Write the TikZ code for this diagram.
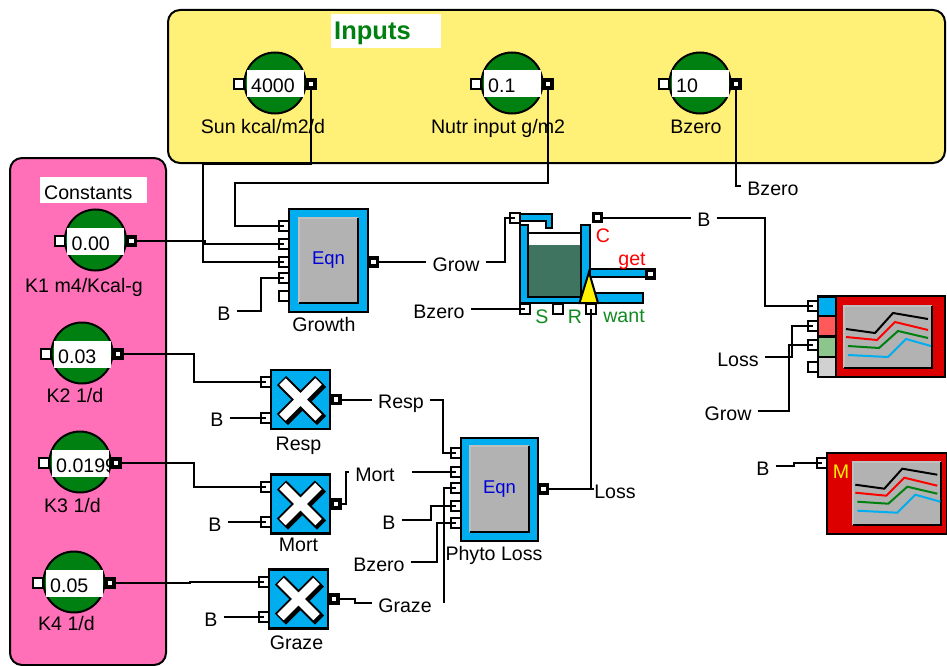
\documentclass[tikz,border=0pt]{standalone}
\usepackage{fontspec}
\setmainfont{Liberation Sans}
\definecolor{panelyellow}{HTML}{FFF078}
\definecolor{panelpink}{HTML}{FF70B8}
\definecolor{knobgreen}{HTML}{008010}
\definecolor{pipeblue}{HTML}{00AEEF}
\definecolor{bodyred}{HTML}{DD0000}
\definecolor{panelgray}{HTML}{B2B2B2}
\definecolor{stockgreen}{HTML}{3F7560}
\definecolor{labelgreen}{HTML}{108A20}
\tikzset{
  lab/.style={inner sep=0pt,text height=14pt,text depth=4pt,font=\fontsize{19.6}{21}\selectfont},
  wirelab/.style={lab,inner xsep=6pt,text height=22pt},
  wire/.style={draw,line width=2pt},
  portin/.style={rectangle,draw,line width=2pt,fill=white,inner sep=0pt,minimum size=10pt},
  portout/.style={rectangle,draw,line width=3.8pt,fill=white,inner sep=0pt,minimum size=8pt},
  knob/.style={circle,draw,line width=2pt,fill=knobgreen,inner sep=0pt,minimum size=61pt},
  block/.style={rectangle,draw,line width=2.2pt,fill=pipeblue,inner sep=0pt},
  bodyblock/.style={rectangle,draw,line width=2.2pt,fill=bodyred,inner sep=0pt},
  panel/.style={rectangle,fill=panelgray,inner sep=0pt},
  region/.style={draw,line width=2pt,rounded corners=12pt},
  pipe/.style={draw,line width=2pt,fill=pipeblue}
}
\begin{document}
\begin{tikzpicture}[x=1pt,y=-1pt]
\useasboundingbox (0,0) rectangle (947,666);
%% regions
\path[region,fill=panelyellow] (168,10) rectangle (945,163);
\path[region,fill=panelpink] (10,158) rectangle (166,665);
\fill[white] (331,14) rectangle (441,48);
\fill[white] (40,177) rectangle (147,203);
\node[lab,anchor=west,text=knobgreen,font=\bfseries\fontsize{25.5}{27}\selectfont] (inputs) at (334,35) {Inputs};
\node[lab,anchor=west] (constants) at (44,194) {Constants};
%% knobs
\foreach \name/\x/\y/\val/\labx/\laby/\lab in {
  sun/275/83/4000/263/129/{Sun kcal/m2/d},
  nutr/512/83/0.1/498/129/{Nutr input g/m2},
  bzero/700/83/10/696/129/{Bzero},
  kone/95.5/240/0.00/84/287/{K1 m4/Kcal-g},
  ktwo/82/353/0.03/75/397/{K2 1/d},
  kthree/80/462/0.0199/72.5/507/{K3 1/d},
  kfour/74/582/0.05/66.5/625/{K4 1/d}}
{
  \node[knob] (\name) at (\x,\y) {};
  \fill[white] (\x-28.5,\y-12.5) rectangle (\x+28.5,\y+14.5);
  \begin{scope}
    \clip (\x-28.5,\y-12.5) rectangle (\x+28.5,\y+14.5);
    \node[lab,anchor=west] (\name-val) at (\x-24,\y+5) {\val};
  \end{scope}
  \node[portin] (\name-in) at (\x-36,\y+1) {};
  \node[portout] (\name-out) at (\x+36,\y+1) {};
  \node[lab] (\name-lab) at (\labx,\laby) {\lab};
}
%% equation blocks
\node[block,minimum width=79pt,minimum height=103pt] (growth) at (328.5,260.5) {};
\node[panel,minimum width=59pt,minimum height=85pt,text=blue!85!black,font=\fontsize{18.5}{20}\selectfont] (growth-panel) at (328.5,260.5) {Eqn};
\node[lab] (growth-lab) at (324,326) {Growth};
\foreach \i/\y in {1/226,2/244,3/262,4/278,5/296}
  \node[portin] (growth-in\i) at (284,\y) {};
\node[portout] (growth-out) at (373.5,262) {};
%%
\node[block,minimum width=77pt,minimum height=103pt] (loss) at (499.5,489.5) {};
\node[panel,minimum width=59pt,minimum height=86pt,text=blue!85!black,font=\fontsize{18.5}{20}\selectfont] (loss-panel) at (499.5,489) {Eqn};
\node[lab] (loss-lab) at (494,555) {Phyto Loss};
\foreach \i/\y in {1/453,2/472,3/488,4/506,5/523}
  \node[portin] (loss-in\i) at (455.5,\y) {};
\node[portout] (loss-out) at (543.5,489) {};
%%
\foreach \name/\x/\y/\lab/\laby in {resp/300.5/399.5/Resp/445,mort/300.5/504/Mort/546,graze/298.5/599/Graze/644}
{
  \node[block,minimum size=59pt] (\name) at (\x,\y) {};
  \draw[line width=13pt] (\x-17,\y-17) -- (\x+21,\y+21) (\x-17,\y+21) -- (\x+21,\y-17);
  \draw[line width=13pt] (\x-19,\y-19) -- (\x+19,\y+19) (\x-19,\y+19) -- (\x+19,\y-19);
  \draw[white,line width=9pt] (\x-18,\y-18) -- (\x+18,\y+18) (\x-18,\y+18) -- (\x+18,\y-18);
  \node[lab] (\name-lab) at (\x-2,\laby) {\lab};
  \node[portin] (\name-in1) at (\x-35,\y-17.5) {};
  \node[portin] (\name-in2) at (\x-35,\y+18) {};
  \node[portout] (\name-out) at (\x+35.5,\y) {};
}
%% stock
\path[pipe] (515,214) -- (552,214) -- (552,228) -- (546,228) -- (546,221) -- (515,221) -- cycle;
\path[pipe] (590,269) rectangle (647,277);
\path[pipe] (520,225) -- (528,225) -- (528,297) -- (581,297) -- (581,225) -- (590,225)
  -- (590,293) -- (643,293) -- (643,303) -- (520,303) -- cycle;
\fill[stockgreen] (529,245) rectangle (580,296);
\fill[white] (529,234) rectangle (580,245);
\draw[line width=2pt] (528,233) -- (581,233);
\draw[line width=2pt,fill=yellow] (589,272) -- (598,303) -- (579.5,303) -- cycle;
\node[portin] (stock-in) at (514.5,217.5) {};
\node[portout] (stock-c) at (597.5,217.5) {};
\node[portout] (stock-get) at (650.5,274) {};
\node[portin] (stock-s) at (525,309) {};
\node[portin] (stock-r) at (558,309) {};
\node[portin] (stock-want) at (591,309) {};
\node[lab,text=red] (c-lab) at (603,237) {C};
\node[lab,text=red] (get-lab) at (632,260) {get};
\node[lab,text=labelgreen] (s-lab) at (542,318) {S};
\node[lab,text=labelgreen] (r-lab) at (575,318) {R};
\node[lab,text=labelgreen] (want-lab) at (624,317) {want};
%% graphs
\node[bodyblock,minimum width=127pt,minimum height=81pt] (graphone) at (881.5,336.5) {};
\foreach \y/\col in {307/pipeblue,326/red!65!white,347/green!50!black!45!white,367/black!18}
  \draw[line width=2pt,fill=\col] (818,\y-10) rectangle (836,\y+10);
\node[panel,minimum width=88pt,minimum height=62pt] (graphone-panel) at (888,337) {};
\foreach \i/\y in {1/306,2/326,3/345,4/367}
  \node[portin] (graphone-in\i) at (812.5,\y) {};
\node[bodyblock,minimum width=120pt,minimum height=81pt] (graphtwo) at (887,493.5) {};
\node[panel,minimum width=88pt,minimum height=63pt] (graphtwo-panel) at (897,493.5) {};
\node[portin] (graphtwo-in) at (821.5,463) {};
\node[lab,text=yellow] (m-lab) at (841,473) {M};
\foreach \name in {growth-panel,loss-panel,graphone-panel,graphtwo-panel}
{
  \draw[black!25,line width=1.6pt] (\name.south west) |- (\name.north east);
  \draw[line width=2pt] (\name.south west) -| (\name.north east);
}
\foreach \ox/\oy in {844/306,853.3/461.7}
{
  \begin{scope}[shift={(\ox,\oy)},line width=2pt]
    \draw (2,23) -- (31,27) -- (49,7) -- (84,13);
    \draw[red] (2,31) -- (33,34) -- (51,16) -- (84,24);
    \draw[knobgreen] (4,40) -- (35,42) -- (54,25) -- (84,32);
    \draw[pipeblue] (4,49) -- (44,51) -- (62,33) -- (87,40);
  \end{scope}
}
%% wire labels
\node[wirelab] (b-growth) at (224,311) {B};
\node[wirelab] (b-resp) at (217,417.5) {B};
\node[wirelab] (b-mort) at (215,522) {B};
\node[wirelab] (b-graze) at (211,617) {B};
\node[wirelab] (b-loss) at (389,520) {B};
\node[wirelab] (b-stock) at (704,217.5) {B};
\node[wirelab] (b-graph) at (763,466) {B};
\node[wirelab] (bzero-stock) at (439,309) {Bzero};
\node[wirelab] (bzero-loss) at (379,562) {Bzero};
\node[wirelab] (bzero-top) at (773,186) {Bzero};
\node[wirelab] (grow-one) at (456,262) {Grow};
\node[wirelab] (grow-two) at (728,411) {Grow};
\node[wirelab] (loss-one) at (615,489) {Loss};
\node[wirelab] (loss-two) at (738,357) {Loss};
\node[wirelab] (resp-wire) at (401,399.5) {Resp};
\node[wirelab] (mort-wire) at (375,472) {Mort};
\node[wirelab] (graze-wire) at (405,603) {Graze};
\coordinate (mort-free) at (412,472);
\coordinate (graze-free) at (444,603);
\coordinate (loss-free) at (594,489);
%% connectors
\path[wire]
\foreach \startNode/\endNode in {growth-out.east/grow-one.west, b-resp.east/resp-in2.center,
  b-mort.east/mort-in2.center, b-graze.east/graze-in2.center, resp-out.east/resp-wire.west,
  loss-out.east/loss-free, bzero-stock.east/stock-s.center,
  mort-free/loss-in2.center, stock-c.east/b-stock.west}
{
  (\startNode) edge (\endNode)
};
\draw[wire] (sun-out.south) |- (203,164) |- (growth-in3.center);
\draw[wire] (nutr-out.south) |- (235,183) |- (growth-in1.center);
\draw[wire] (bzero-out.south) |- (bzero-top.west);
\draw[wire] (kone-out.east) -- (205,241) |- (growth-in2.center);
\draw[wire] (b-growth.east) -- (261,311) |- (growth-in4.center);
\draw[wire] (grow-one.east) -- (504.5,262) |- (stock-in.center);
\draw[wire] (stock-want.center) |- (loss-free);
\draw[wire] (b-stock.east) -- (765,217.5) |- (graphone-in1.center);
\draw[wire] (loss-two.east) -- (792,357) |- (graphone-in2.center);
\draw[wire] (grow-two.east) -- (789,411) |- (graphone-in3.center);
\draw[wire] (b-graph.east) -- (794,466) |- (graphtwo-in.center);
\draw[wire] (ktwo-out.east) -- (194,354) |- (resp-in1.center);
\draw[wire] (kthree-out.east) -- (194,463) |- (mort-in1.center);
\draw[wire] (kfour-out.east) -- (190,583) |- (graze-in1.center);
\draw[wire] (mort-out.east) -- (346,504) |- (mort-wire.west);
\draw[wire] (graze-out.east) -- (355,599) |- (graze-wire.west);
\draw[wire] (resp-wire.east) -- (443,399.5) |- (loss-in1.center);
\draw[wire] (graze-free) |- (loss-in3.center);
\draw[wire] (b-loss.east) -- (431,520) |- (loss-in4.center);
\draw[wire] (bzero-loss.east) -- (437,562) |- (loss-in5.center);
\end{tikzpicture}
\end{document}
